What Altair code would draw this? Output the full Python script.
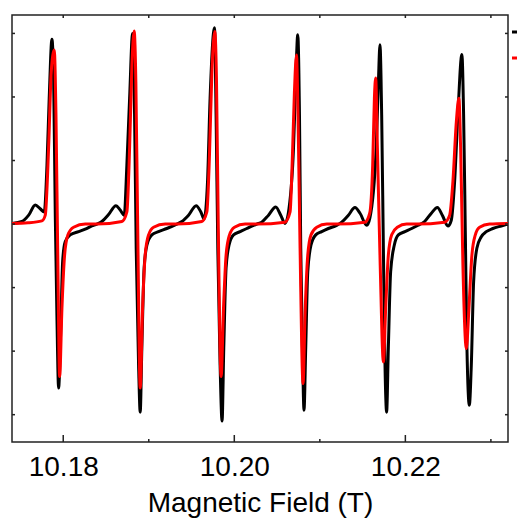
import altair as alt
import pandas as pd

# Experimental spectrum (black)
exp_field = [
    10.17401, 10.17518, 10.17596, 10.17673, 10.17731, 10.17778, 10.17810, 10.17836, 10.17868, 10.17888,
    10.17907, 10.17926, 10.17946, 10.17970, 10.17993, 10.18023, 10.18082, 10.18180, 10.18257, 10.18335, 10.18394,
    10.18452, 10.18530, 10.18616, 10.18666, 10.18713, 10.18744, 10.18776, 10.18811, 10.18834, 10.18853,
    10.18881, 10.18900, 10.18919, 10.18946, 10.18978, 10.19036, 10.19114, 10.19211, 10.19328,
    10.19387, 10.19465, 10.19554, 10.19609, 10.19647, 10.19687, 10.19717, 10.19769, 10.19787, 10.19807,
    10.19834, 10.19857, 10.19877, 10.19904, 10.19939, 10.19991, 10.20068, 10.20146, 10.20263,
    10.20321, 10.20400, 10.20485, 10.20543, 10.20593, 10.20640, 10.20692, 10.20718, 10.20742, 10.20762,
    10.20777, 10.20797, 10.20815, 10.20835, 10.20859, 10.20897, 10.20952, 10.21022, 10.21100, 10.21197,
    10.21256, 10.21334, 10.21411, 10.21470, 10.21548, 10.21586, 10.21659, 10.21685, 10.21703, 10.21723,
    10.21743, 10.21762, 10.21781, 10.21801, 10.21828, 10.21871, 10.21918, 10.21995, 10.22074, 10.22132,
    10.22225, 10.22304, 10.22374, 10.22432, 10.22498, 10.22537, 10.22576, 10.22614, 10.22661, 10.22681,
    10.22701, 10.22720, 10.22748, 10.22771, 10.22798, 10.22836, 10.22888, 10.22946, 10.23023, 10.23121, 10.23199,
]
exp_signal = [
    0.01, 0.04, 0.14, 0.30, 0.24, 0.19, 0.93, 1.98, 2.91, 2.24,
    0.14, -1.43, -2.58, -1.70, -0.59, -0.28, -0.17, -0.12, -0.08, -0.03, 0.00,
    0.04, 0.15, 0.29, 0.22, 0.14, 0.93, 1.98, 3.00, 1.72, -0.38,
    -2.22, -2.96, -1.95, -0.69, -0.33, -0.17, -0.12, -0.07, 0.00,
    0.04, 0.14, 0.29, 0.19, 0.08, 0.67, 1.98, 3.09, 1.72, -0.38,
    -2.22, -3.10, -1.95, -0.69, -0.33, -0.17, -0.12, -0.07, 0.00,
    0.03, 0.14, 0.27, 0.14, 0.01, 0.25, 1.19, 2.24, 2.98, 1.72,
    -0.38, -1.95, -2.93, -1.95, -0.75, -0.33, -0.17, -0.12, -0.07, -0.02,
    0.03, 0.14, 0.26, 0.17, -0.02, 0.10, 1.20, 2.24, 2.82, 1.72,
    -0.38, -2.22, -2.96, -1.95, -0.75, -0.33, -0.17, -0.12, -0.07, -0.03,
    0.04, 0.17, 0.26, 0.14, -0.03, 0.06, 0.67, 1.72, 2.67, 1.72,
    -0.12, -1.95, -2.85, -2.22, -0.91, -0.38, -0.20, -0.12, -0.07, -0.03, 0.00,
]

# Simulated spectrum (red)
sim_field = [
    10.17401, 10.17588, 10.17751, 10.17790, 10.17829, 10.17860, 10.17895, 10.17915, 10.17935, 10.17958,
    10.17985, 10.18016, 10.18055, 10.18121, 10.18257, 10.18394,
    10.18686, 10.18744, 10.18776, 10.18803, 10.18829, 10.18849, 10.18869, 10.18900, 10.18928, 10.18958,
    10.18998, 10.19056, 10.19192, 10.19328,
    10.19620, 10.19679, 10.19710, 10.19737, 10.19772, 10.19792, 10.19811, 10.19846, 10.19874, 10.19904,
    10.19944, 10.20002, 10.20126, 10.20263,
    10.20593, 10.20652, 10.20680, 10.20703, 10.20727, 10.20745, 10.20769, 10.20804, 10.20827, 10.20859,
    10.20897, 10.20964, 10.21081, 10.21197,
    10.21528, 10.21583, 10.21618, 10.21638, 10.21653, 10.21673, 10.21706, 10.21743, 10.21770, 10.21801,
    10.21840, 10.21906, 10.22015, 10.22132,
    10.22459, 10.22518, 10.22556, 10.22596, 10.22626, 10.22646, 10.22673, 10.22713, 10.22743, 10.22778,
    10.22818, 10.22868, 10.22985, 10.23199,
]
sim_signal = [
    0.01, 0.02, 0.05, 0.14, 1.20, 2.40, 2.74, 1.72, -0.38, -2.40,
    -1.32, -0.49, -0.17, -0.05, 0.00, 0.00,
    0.04, 0.19, 1.20, 2.50, 3.04, 2.24, 0.14, -2.58, -1.32, -0.49,
    -0.17, -0.05, 0.00, 0.00,
    0.04, 0.19, 1.09, 2.35, 3.03, 2.24, 0.14, -2.40, -1.32, -0.49,
    -0.17, -0.05, 0.00, 0.00,
    0.03, 0.19, 1.09, 2.08, 2.66, 1.72, -0.38, -2.51, -1.43, -0.49,
    -0.17, -0.05, 0.00, 0.00,
    0.03, 0.17, 0.93, 1.98, 2.30, 1.20, -0.65, -2.17, -1.32, -0.49,
    -0.17, -0.05, 0.00, 0.00,
    0.03, 0.14, 0.67, 1.61, 1.98, 1.20, -0.65, -1.96, -1.33, -0.49,
    -0.17, -0.05, 0.00, 0.01,
]

major_ticks = [10.18, 10.20, 10.22]
minor_ticks = [10.19, 10.21, 10.23]
all_x_ticks = [10.18, 10.19, 10.20, 10.21, 10.22, 10.23]
y_ticks = [-3, -2, -1, 0, 1, 2, 3]
series_names = ["Experiment", "Simulation"]

W, H = 496, 427
FONT = "Liberation Sans"
FRAME = "#222222"

xscale = alt.Scale(domain=[10.17401, 10.2320], nice=False, zero=False)
yscale = alt.Scale(domain=[-3.43, 3.29], nice=False, zero=False)

x_axis = alt.Axis(
    values=major_ticks, format=".2f", ticks=False, domain=False, grid=False,
    labelFont=FONT, labelFontSize=28, labelColor="#000", labelPadding=11,
    title="Magnetic Field (T)", titleFont=FONT, titleFontSize=28,
    titleFontWeight="normal", titleColor="#000", titlePadding=8,
)


def X():
    return alt.X("field:Q", scale=xscale, axis=x_axis)


def Y():
    return alt.Y("signal:Q", scale=yscale, axis=None)


exp_df = pd.DataFrame({"field": exp_field, "signal": exp_signal, "series": series_names[0]})
sim_df = pd.DataFrame({"field": sim_field, "signal": sim_signal, "series": series_names[1]})

exp_line = alt.Chart(exp_df).mark_line(
    color="#000000", strokeWidth=3, interpolate="monotone", clip=True
).encode(x=X(), y=Y())

sim_line = alt.Chart(sim_df).mark_line(
    color="#ff0000", strokeWidth=3, interpolate="monotone", clip=True
).encode(x=X(), y=Y())

bottom_major = alt.Chart(pd.DataFrame({"field": major_ticks})).mark_rule(
    color=FRAME, strokeWidth=1.5).encode(x=X(), y=alt.value(H), y2=alt.value(H - 7))
bottom_minor = alt.Chart(pd.DataFrame({"field": minor_ticks})).mark_rule(
    color=FRAME, strokeWidth=1.5).encode(x=X(), y=alt.value(H), y2=alt.value(H - 3))
top_ticks = alt.Chart(pd.DataFrame({"field": all_x_ticks})).mark_rule(
    color=FRAME, strokeWidth=1.5).encode(x=X(), y=alt.value(0), y2=alt.value(3))
left_ticks = alt.Chart(pd.DataFrame({"signal": y_ticks})).mark_rule(
    color=FRAME, strokeWidth=1.5).encode(y=Y(), x=alt.value(0), x2=alt.value(3))
right_ticks = alt.Chart(pd.DataFrame({"signal": y_ticks})).mark_rule(
    color=FRAME, strokeWidth=1.5).encode(y=Y(), x=alt.value(W - 3), x2=alt.value(W))

leg_exp = alt.Chart(pd.DataFrame({"series": [series_names[0]]})).mark_rule(
    color="#000000", strokeWidth=3).encode(x=alt.value(500), x2=alt.value(510), y=alt.value(17))
leg_sim = alt.Chart(pd.DataFrame({"series": [series_names[1]]})).mark_rule(
    color="#ff0000", strokeWidth=3).encode(x=alt.value(500), x2=alt.value(510), y=alt.value(43))

chart = alt.layer(
    exp_line, sim_line, bottom_major, bottom_minor, top_ticks, left_ticks, right_ticks,
    leg_exp, leg_sim,
).properties(
    width=W, height=H,
    padding={"left": 4, "top": 7, "right": 9, "bottom": 76},
    autosize=alt.AutoSizeParams(type="none"),
    background="white",
).configure_view(stroke=FRAME, strokeWidth=1.5)

chart.save("out.html", embed_options={"renderer": "svg", "actions": False})
